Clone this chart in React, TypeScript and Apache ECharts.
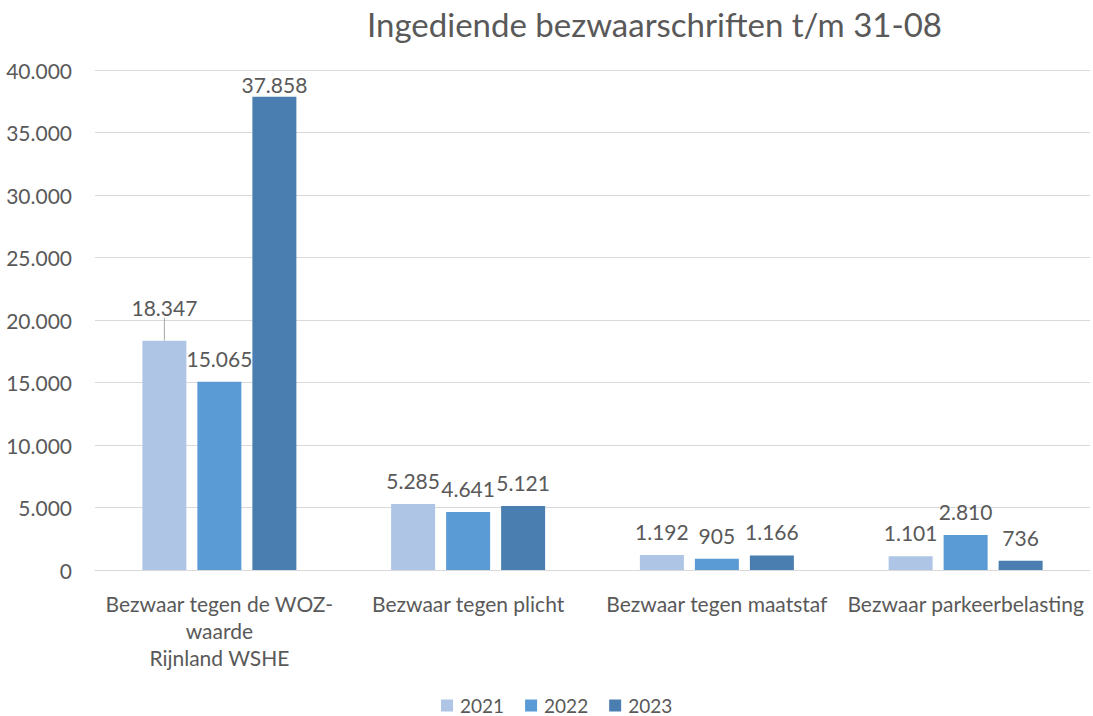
import React, { useEffect, useRef } from "react";
import * as echarts from "echarts";

const categories = [
  "Bezwaar tegen de WOZ-\nwaarde\nRijnland WSHE",
  "Bezwaar tegen plicht",
  "Bezwaar tegen maatstaf",
  "Bezwaar parkeerbelasting",
];
const seriesNames = ["2021", "2022", "2023"];
const values2021 = [18347, 5285, 1192, 1101];
const values2022 = [15065, 4641, 905, 2810];
const values2023 = [37858, 5121, 1166, 736];
const colors = ["#AEC5E5", "#5B9BD5", "#4A7EB0"];
const yTicks = { min: 0, max: 40000, interval: 5000 };

const fmt = (v: number) =>
  String(Math.round(v)).replace(/\B(?=(\d{3})+(?!\d))/g, ".");

const FONT = "Lato, 'Open Sans', sans-serif";
const TXT = "#595959";

export default function App() {
  const ref = useRef<HTMLDivElement>(null);
  useEffect(() => {
    if (!ref.current) return;
    const chart = echarts.init(ref.current, undefined, { renderer: "svg" });
    const all = [values2021, values2022, values2023];
    chart.setOption({
      animation: false,
      backgroundColor: "#FFFFFF",
      textStyle: { fontFamily: FONT },
      title: {
        text: "Ingediende bezwaarschriften t/m 31-08",
        left: 362,
        top: 2,
        textStyle: { fontFamily: FONT, fontSize: 33, fontWeight: "normal", color: TXT },
      },
      legend: {
        top: 696,
        left: 441,
        padding: 0,
        itemWidth: 12,
        itemHeight: 12,
        itemGap: 21,
        icon: "rect",
        textStyle: { fontFamily: FONT, fontSize: 19, color: TXT, padding: [0, 0, 0, 2] },
        data: seriesNames,
      },
      grid: { left: 95, right: 3, top: 70, bottom: 146, containLabel: false },
      xAxis: {
        type: "category",
        data: categories,
        axisLine: { lineStyle: { color: "#D9D9D9" } },
        axisTick: { show: false },
        axisLabel: {
          interval: 0,
          margin: 20,
          fontFamily: FONT,
          fontSize: 21,
          lineHeight: 27,
          color: TXT,
        },
      },
      yAxis: {
        type: "value",
        min: yTicks.min,
        max: yTicks.max,
        interval: yTicks.interval,
        axisLine: { show: false },
        axisTick: { show: false },
        splitLine: { lineStyle: { color: "#D9D9D9" } },
        axisLabel: {
          margin: 23,
          fontFamily: FONT,
          fontSize: 21,
          color: TXT,
          formatter: (v: number) => (v === 0 ? "0" : fmt(v)),
        },
      },
      series: all.map((vals, si) => ({
        name: seriesNames[si],
        type: "bar",
        barWidth: 44,
        barGap: "25%",
        itemStyle: { color: colors[si] },
        data: vals.map((v, i) =>
          si === 0 && i === 0
            ? { value: v, labelLine: { show: true } }
            : { value: v }
        ),
        label: {
          show: true,
          position: "top",
          distance: 13,
          fontFamily: FONT,
          fontSize: 21,
          color: TXT,
          formatter: (p: any) => fmt(p.value),
        },
        labelLine: {
          show: false,
          lineStyle: { color: "#A6A6A6", width: 1 },
        },
        labelLayout: (p: any) => {
          if (si === 0 && p.dataIndex === 0) return { dy: -10 };
          if (si === 2 && p.dataIndex === 0) return { dy: 11 };
          return {};
        },
      })),
    });
    return () => chart.dispose();
  }, []);
  return (
    <div
      ref={ref}
      style={{ position: "fixed", left: 0, top: 0, width: 1093, height: 716 }}
    />
  );
}
